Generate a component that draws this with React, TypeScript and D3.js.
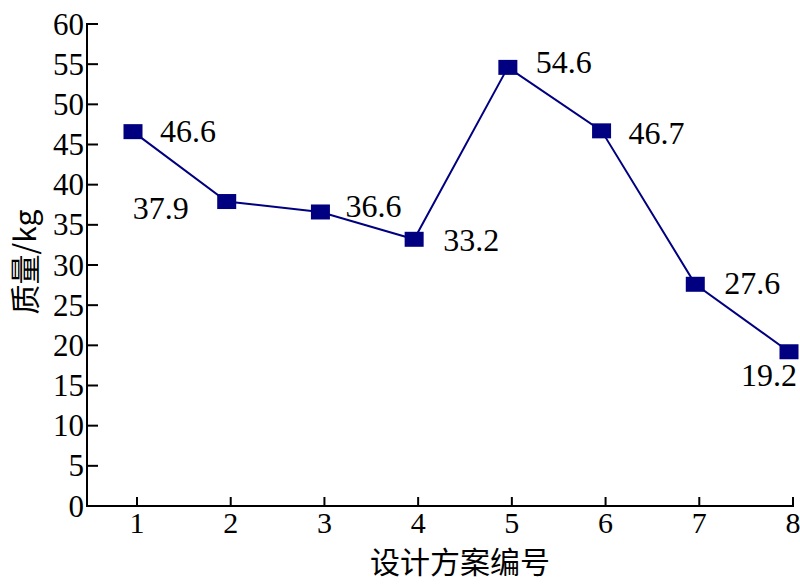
import React from "react";
import * as d3 from "d3";

const categories: number[] = [1, 2, 3, 4, 5, 6, 7, 8];
const masses: number[] = [46.6, 37.9, 36.6, 33.2, 54.6, 46.7, 27.6, 19.2];
const yTicks: number[] = [0, 5, 10, 15, 20, 25, 30, 35, 40, 45, 50, 55, 60];
const xTitle = "设计方案编号";
const yTitle = "质量/kg";

// label placement (style only): [dx, dy, anchor]
const labelPlacement: [number, number, "start" | "end"][] = [
  [27, 10, "start"],
  [-38, 17, "end"],
  [25, 5, "start"],
  [29, 12, "start"],
  [28, 6, "start"],
  [27, 13, "start"],
  [29, 10, "start"],
  [8, 34, "end"],
];

const W = 800;
const H = 584;
const NUM_FONT = '"Liberation Serif"';
const CJK_FONT = '"Noto Sans CJK SC"';
const NAVY = "#000080";

export default function App() {
  const x = d3.scaleLinear().domain([1, 8]).range([137, 793]);
  const y = d3.scaleLinear().domain([0, 60]).range([506, 24]);
  const axisX0 = 87;
  const markerShift = -4;
  const pts = categories.map((c, i) => [x(c) + markerShift, y(masses[i])] as [number, number]);
  const line = d3.line<[number, number]>().x((d) => d[0]).y((d) => d[1]);
  const mw = 19;
  const mh = 15;

  return (
    <svg width={W} height={H} style={{ position: "absolute", left: 0, top: 0, background: "#fff" }}>
      {/* y axis */}
      <line x1={axisX0} x2={axisX0} y1={y(60) - 1} y2={y(0) + 1} stroke="#000" strokeWidth={2} />
      {yTicks.map((t) => (
        <g key={"y" + t}>
          <line x1={axisX0} x2={axisX0 + 11} y1={y(t)} y2={y(t)} stroke="#000" strokeWidth={2} />
          <text
            x={axisX0 - 3}
            y={y(t)}
            dy="0.34em"
            textAnchor="end"
            style={{ fontFamily: NUM_FONT, fontSize: "31px" }}
            fill="#000"
          >
            {String(t)}
          </text>
        </g>
      ))}
      {/* x axis */}
      <line x1={axisX0 - 1} x2={x(8) + 1} y1={y(0)} y2={y(0)} stroke="#000" strokeWidth={2} />
      {categories.map((c) => (
        <g key={"x" + c}>
          <line x1={x(c)} x2={x(c)} y1={y(0)} y2={y(0) - 9} stroke="#000" strokeWidth={2} />
          <text
            x={x(c)}
            y={y(0) + 27}
            textAnchor="middle"
            style={{ fontFamily: NUM_FONT, fontSize: "30px" }}
            fill="#000"
          >
            {String(c)}
          </text>
        </g>
      ))}
      {/* titles */}
      <text x={460} y={573} textAnchor="middle" style={{ fontFamily: CJK_FONT, fontSize: "30px" }} fill="#000">
        {xTitle}
      </text>
      <text
        transform="translate(36,262) rotate(-90)"
        textAnchor="middle"
        style={{ fontFamily: CJK_FONT, fontSize: "30px" }}
        fill="#000"
      >
        {yTitle}
      </text>
      {/* line */}
      <path d={line(pts) || ""} fill="none" stroke={NAVY} strokeWidth={2} />
      {/* markers */}
      {pts.map((p, i) => (
        <rect key={"m" + i} x={p[0] - mw / 2} y={p[1] - mh / 2} width={mw} height={mh} fill={NAVY} />
      ))}
      {/* value labels */}
      {masses.map((v, i) => (
        <text
          key={"v" + i}
          x={pts[i][0] + labelPlacement[i][0]}
          y={pts[i][1] + labelPlacement[i][1]}
          textAnchor={labelPlacement[i][2]}
          style={{ fontFamily: NUM_FONT, fontSize: "32px" }}
          fill="#000"
        >
          {v.toFixed(1)}
        </text>
      ))}
    </svg>
  );
}
